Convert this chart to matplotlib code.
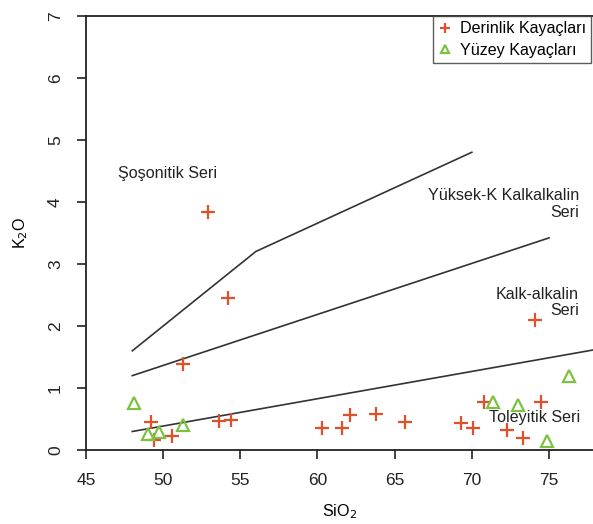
import numpy as np
import matplotlib
matplotlib.use("Agg")
from matplotlib import pyplot as plt

plt.rcParams['font.family'] = ['Liberation Sans', 'DejaVu Sans']

# Derinlik kayaclari (plutonic), SiO2 vs K2O
der_sio2 = [52.9, 54.2, 51.3, 49.2, 49.4, 50.6, 53.6, 54.4,
            60.3, 61.6, 62.1, 63.8, 65.7, 69.3, 70.1, 70.8, 72.3, 73.3, 74.5, 74.1]
der_k2o = [3.83, 2.45, 1.39, 0.45, 0.16, 0.23, 0.47, 0.49,
           0.36, 0.36, 0.56, 0.58, 0.46, 0.43, 0.36, 0.77, 0.33, 0.20, 0.78, 2.09]

# Yuzey kayaclari (volcanic)
yuz_sio2 = [48.1, 49.0, 49.7, 51.3, 71.4, 73.0, 74.9, 76.3]
yuz_k2o = [0.76, 0.26, 0.29, 0.40, 0.78, 0.73, 0.15, 1.19]

# series boundaries
sho_x = [48, 56, 70]
sho_y = [1.6, 3.2, 4.8]
hk_x = [48, 75]
hk_y = [1.2, 3.42]
tho_x = [48, 78]
tho_y = [0.3, 1.62]

fig = plt.figure(figsize=(5.93, 5.24), dpi=100)
ax = fig.add_axes([0.145, 0.141, 0.855, 0.829])

ax.plot(sho_x, sho_y, color='#333333', lw=1.2)
ax.plot(hk_x, hk_y, color='#333333', lw=1.2)
ax.plot(tho_x, tho_y, color='#333333', lw=1.2)

ax.plot(der_sio2, der_k2o, ls='none', marker='+', ms=9.5, mew=1.6,
        color='#e0502a', label='Derinlik Kayaçları')
ax.plot(yuz_sio2, yuz_k2o, ls='none', marker='^', ms=8, mew=1.6,
        mfc='none', mec='#7dc142', label='Yüzey Kayaçları')

fs = 11.6
ax.text(47.05, 4.45, 'Şoşonitik Seri', fontsize=fs, ha='left', va='center', color='#222222')
ax.text(76.95, 3.97, 'Yüksek-K Kalkalkalin\nSeri', fontsize=fs, ha='right', va='center',
        color='#222222', linespacing=1.15)
ax.text(76.95, 2.38, 'Kalk-alkalin\nSeri', fontsize=fs, ha='right', va='center',
        color='#222222', linespacing=1.15)
ax.text(77.0, 0.53, 'Toleyitik Seri', fontsize=fs, ha='right', va='center', color='#222222')

ax.set_xlim(45, 77.85)
ax.set_ylim(0, 7)
ax.set_xticks([45, 50, 55, 60, 65, 70, 75])
ax.set_yticks(range(0, 8))
ax.spines['right'].set_visible(False)
for s in ['left', 'top', 'bottom']:
    ax.spines[s].set_linewidth(1.3)
    ax.spines[s].set_color('#222222')
ax.tick_params(direction='out', length=6.5, width=1.2, labelsize=12.5,
               colors='#222222', pad=10)
for lab in ax.get_yticklabels():
    lab.set_rotation(90)
    lab.set_va('center')

ax.set_xlabel('SiO$_2$', fontsize=fs, labelpad=10)
ax.set_ylabel('K$_2$O', fontsize=fs, labelpad=13)

leg = ax.legend(loc='upper right', bbox_to_anchor=(0.997, 1.0), borderaxespad=0,
                fontsize=fs, frameon=True, fancybox=False, handlelength=0.8,
                handletextpad=0.5, borderpad=0.35, labelspacing=0.4, markerscale=0.8)
leg.get_frame().set_edgecolor('#333333')
leg.get_frame().set_linewidth(1.0)

fig.savefig('out.png', dpi=100)
